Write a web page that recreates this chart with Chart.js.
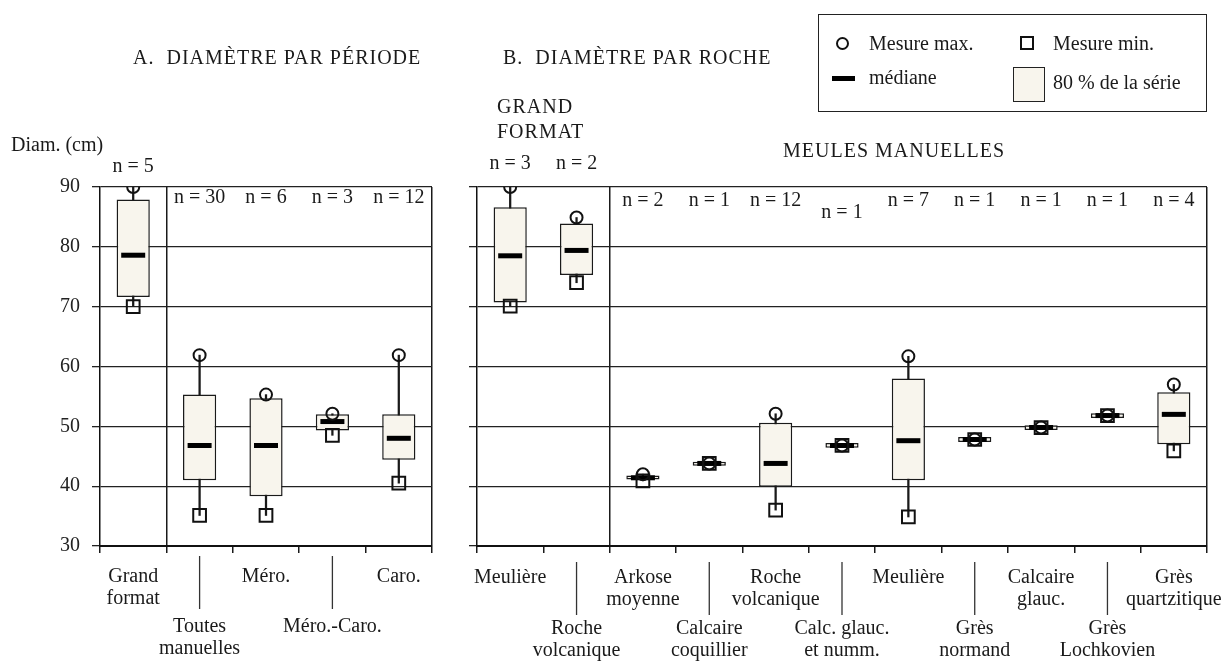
<!DOCTYPE html>
<html><head><meta charset="utf-8">
<script src="https://cdn.jsdelivr.net/npm/chart.js@4.4.1/dist/chart.umd.min.js"></script>
<style>
html,body{margin:0;padding:0;background:#fff;}
#wrap{position:relative;width:1224px;height:661px;overflow:hidden;font-family:'Liberation Serif','Times New Roman',serif;color:#1a1a1a;}
canvas{position:absolute;left:0;top:0;}
.t{position:absolute;white-space:nowrap;font-size:20px;line-height:20px;}
.cap{letter-spacing:1px;}
</style></head>
<body><div id="wrap">
<canvas id="cA" width="1224" height="661"></canvas>
<canvas id="cB" width="1224" height="661"></canvas>

<div class="t cap" style="left:133px;top:47px">A.&nbsp; DIAMÈTRE PAR PÉRIODE</div>
<div class="t cap" style="left:503px;top:47px">B.&nbsp; DIAMÈTRE PAR ROCHE</div>
<div class="t cap" style="left:497px;top:96px">GRAND</div>
<div class="t cap" style="left:497px;top:121px">FORMAT</div>
<div class="t cap" style="left:783px;top:140px">MEULES MANUELLES</div>
<div class="t" style="left:11px;top:134px">Diam. (cm)</div>

<div style="position:absolute;left:818px;top:14px;width:389px;height:98px;border:1.5px solid #222;box-sizing:border-box"></div>
<div style="position:absolute;left:836px;top:37px;width:13px;height:13px;border:2px solid #111;border-radius:50%;box-sizing:border-box"></div>
<div class="t" style="left:869px;top:33px">Mesure max.</div>
<div style="position:absolute;left:1020px;top:36px;width:14px;height:14px;border:2px solid #111;box-sizing:border-box"></div>
<div class="t" style="left:1053px;top:33px">Mesure min.</div>
<div style="position:absolute;left:832px;top:76px;width:23px;height:5px;background:#000"></div>
<div class="t" style="left:869px;top:67px">médiane</div>
<div style="position:absolute;left:1013px;top:67px;width:32px;height:35px;border:1.5px solid #222;background:#f8f5ed;box-sizing:border-box"></div>
<div class="t" style="left:1053px;top:72px">80 % de la série</div>
</div>
<script>
const FONT = "'Liberation Serif', 'Times New Roman', serif";

// Panel A: diameter by period
const catsA = [['Grand','format'],['Toutes','manuelles'],['Méro.'],['Méro.-Caro.'],['Caro.']];
const nA    = [5, 30, 6, 3, 12];
const maxA  = [90, 61.9, 55.3, 52.1, 61.9];
const highA = [87.9, 55.3, 54.7, 52.0, 52.0];
const medA  = [78.6, 46.8, 46.8, 50.8, 48.0];
const lowA  = [71.6, 41.0, 38.3, 49.3, 44.4];
const minA  = [70, 35.1, 35.1, 48.5, 40.5];

// Panel B: diameter by rock
const catsB = [['Meulière'],['Roche','volcanique'],['Arkose','moyenne'],['Calcaire','coquillier'],['Roche','volcanique'],['Calc. glauc.','et numm.'],['Meulière'],['Grès','normand'],['Calcaire','glauc.'],['Grès','Lochkovien'],['Grès','quartzitique']];
const nB    = [3, 2, 2, 1, 12, 1, 7, 1, 1, 1, 4];
const maxB  = [90, 84.9, 42.0, 43.8, 52.1, 46.8, 61.7, 47.8, 49.8, 51.8, 57.0];
const highB = [86.6, 83.9, 41.8, 44.1, 50.6, 47.2, 58.0, 48.2, 50.2, 52.2, 55.7];
const medB  = [78.5, 79.4, 41.4, 43.8, 43.8, 46.8, 47.6, 47.8, 49.8, 51.8, 52.0];
const lowB  = [70.7, 75.3, 41.1, 43.4, 39.9, 46.4, 41.0, 47.4, 49.4, 51.4, 47.0];
const minB  = [70.1, 74.0, 40.9, 43.8, 36.0, 46.8, 34.85, 47.8, 49.8, 51.8, 45.9];

const yTicks = [30, 40, 50, 60, 70, 80, 90];

function labelPlugin(cfg) {
  return {
    id: 'catLabels',
    afterDraw(chart) {
      const ctx = chart.ctx, x = chart.scales.x;
      ctx.save();
      ctx.font = '20px ' + FONT;
      ctx.fillStyle = '#1a1a1a';
      ctx.strokeStyle = '#333';
      ctx.lineWidth = 1.3;
      ctx.textAlign = 'center';
      ctx.textBaseline = 'middle';
      cfg.cats.forEach((lines, i) => {
        const px = x.getPixelForValue(i);
        const second = i % 2 === 1;
        const y0 = second ? cfg.row2 : cfg.row1;
        lines.forEach((t, k) => ctx.fillText(t, px, y0 + k * 22));
        if (second) {
          ctx.beginPath();
          ctx.moveTo(px, cfg.sep[0]);
          ctx.lineTo(px, cfg.sep[1]);
          ctx.stroke();
        }
        ctx.fillText('n = ' + cfg.n[i], px, cfg.nY[cfg.nRow[i]]);
      });
      ctx.restore();
    }
  };
}

function makeChart(id, cats, n, mx, hi, md, lo, mn, o) {
  return new Chart(document.getElementById(id), {
    type: 'bar',
    data: {
      labels: cats.map(c => c.join(' ')),
      datasets: [
        {type:'line', label:'max', data: mx, showLine:false, pointStyle:'circle', pointRadius:6, pointBorderWidth:2,
         pointBorderColor:'#111', pointBackgroundColor:'rgba(0,0,0,0)', order:1},
        {type:'line', label:'min', data: mn, showLine:false, pointStyle:'rect', pointRadius:9, pointBorderWidth:2,
         pointBorderColor:'#111', pointBackgroundColor:'rgba(0,0,0,0)', order:1},
        {type:'line', label:'median', data: md, showLine:false, pointStyle:'line', pointRadius:12, pointBorderWidth:5,
         pointBorderColor:'#000', order:2},
        {type:'bar', label:'box', data: lo.map((v, i) => [v, hi[i]]), backgroundColor:'#f8f5ed', borderColor:'#1a1a1a',
         borderWidth:1.5, borderSkipped:false, barPercentage:0.5, categoryPercentage:1, grouped:false, order:3},
        {type:'bar', label:'whisker', data: mn.map((v, i) => [v, mx[i]]), backgroundColor:'#1a1a1a',
         barThickness:1.6, grouped:false, order:4}
      ]
    },
    options: {
      responsive:false, animation:false, devicePixelRatio:1, events:[],
      layout:{padding:{left:o.padL, right:o.padR, top:187, bottom:0}},
      plugins:{legend:{display:false}, tooltip:{enabled:false}},
      scales:{
        x:{
          type:'category', offset:true,
          grid:{offset:true, drawOnChartArea:true, lineWidth:1.5, tickLength:7, tickWidth:1.5, tickColor:'#1a1a1a',
                color: c => (c.type !== 'tick' || c.index === o.sep) ? '#1a1a1a' : 'rgba(0,0,0,0)'},
          border:{display:true, color:'#111', width:2},
          ticks:{display:false},
          afterFit: s => { s.height = 115; }
        },
        y:{
          min:30, max:90,
          afterBuildTicks: s => { s.ticks = yTicks.map(v => ({value:v})); },
          grid:{color:'#222', lineWidth:1.3, tickLength:8, tickColor:'#222'},
          border:{display:true, color:'#111', width:1.5},
          ticks:{display:o.yLabels, font:{family:FONT, size:20}, color:'#222', padding:12},
          afterFit: s => { s.width = o.yW; }
        }
      }
    },
    plugins:[labelPlugin({cats, n, row1:o.row1, row2:o.row2, sep:o.sepY, nY:o.nY, nRow:o.nRow})]
  });
}

makeChart('cA', catsA, nA, maxA, highA, medA, lowA, minA,
  {padL:60, padR:792, yW:40, yLabels:true, sep:1, row1:577, row2:627, sepY:[556,609],
   nY:[167,198,198], nRow:[0,1,1,1,1]});
makeChart('cB', catsB, nB, maxB, highB, medB, lowB, minB,
  {padL:467, padR:17, yW:10, yLabels:false, sep:2, row1:578, row2:629, sepY:[562,615],
   nY:[164,201,213], nRow:[0,0,1,1,1,2,1,1,1,1,1]});
</script>
</body></html>
